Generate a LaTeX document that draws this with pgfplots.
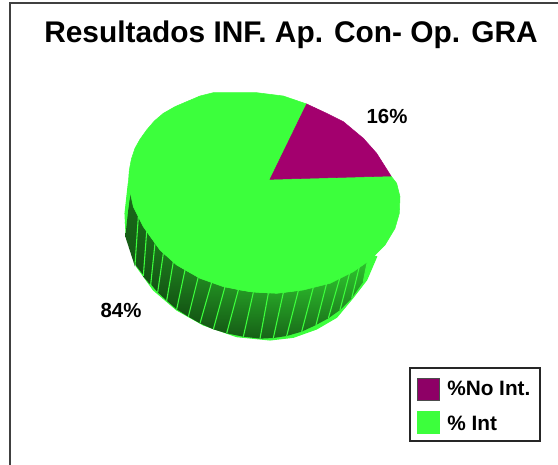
\documentclass[border=0pt]{standalone}
\usepackage{fontspec}
\setmainfont{Liberation Sans}
\usepackage{pgfplots}
\pgfplotsset{compat=1.18}

\definecolor{pieGreen}{HTML}{3CFF3C}
\definecolor{piePurple}{HTML}{A3006E}
\definecolor{legPurple}{HTML}{8E0066}

% one strip of the pie's wall: colour at the rim, colour at the foot, outline
\newcommand{\band}[3]{\addplot[draw=none, top color=pieGreen!#1!black, bottom color=pieGreen!#2!black] coordinates {#3} -- cycle;}
\newcommand{\rib}[1]{\addplot[pieGreen, line width=0.8pt] coordinates {#1};}

\begin{document}
\begin{tikzpicture}
\useasboundingbox (0,0) rectangle (418.5pt,348.75pt);
% axis units are 1/3 of a pixel, measured from (110,80) of the picture, y downwards
\begin{axis}[
    hide axis,
    scale only axis,
    width=418.5pt,
    height=348.75pt,
    xmin=-330, xmax=1344,
    ymin=-240, ymax=1155,
    y dir=reverse,
    clip=false,
]

% frame: left and top only
\addplot[black!75, line width=0.9pt] coordinates {(-300,1155)(-300,-231)(1344,-231)};

% wall of the pie
\addplot[pieGreen, fill=pieGreen, line width=0.8pt] coordinates {
    (55,310)(45,400)(48,460)(80,560)(130,630)(200,690)(280,735)(380,770)(480,780)
    (550,772)(620,747)(680,712)(730,652)(770,600)(800,530)
} -- cycle;
\band{42}{34}{(60,340)(85,410)(75,560)(46,470)}
\band{42}{32}{(85,410)(110,455)(100,585)(75,553)}
\band{44}{32}{(110,455)(135,490)(122,615)(100,590)}
\band{46}{32}{(135,490)(160,520)(143,637)(122,612)}
\band{48}{32}{(160,520)(190,545)(170,662)(143,637)}
\band{50}{32}{(190,545)(225,570)(200,688)(170,662)}
\band{52}{32}{(225,570)(265,590)(235,710)(200,688)}
\band{54}{33}{(265,590)(305,607)(270,730)(235,710)}
\band{56}{34}{(305,607)(345,620)(310,748)(270,730)}
\band{58}{35}{(345,620)(385,630)(350,760)(310,748)}
\band{60}{36}{(385,630)(430,637)(400,770)(350,760)}
\band{62}{37}{(430,637)(475,640)(450,776)(400,770)}
\band{64}{39}{(475,640)(520,638)(490,774)(450,776)}
\band{66}{41}{(520,638)(565,632)(530,768)(490,774)}
\band{68}{43}{(565,632)(610,622)(575,755)(530,768)}
\band{70}{45}{(610,622)(650,610)(618,735)(575,755)}
\band{72}{47}{(650,610)(690,592)(655,715)(618,735)}
\band{74}{50}{(690,592)(720,575)(690,690)(655,715)}
\band{76}{54}{(720,575)(750,552)(725,655)(690,690)}
\band{78}{58}{(750,552)(775,530)(760,605)(725,655)}
\rib{(60,340)(46,430)}
\rib{(85,410)(75,555)}
\rib{(110,455)(100,588)}
\rib{(135,490)(122,615)}
\rib{(160,520)(143,637)}
\rib{(190,545)(170,662)}
\rib{(225,570)(200,688)}
\rib{(265,590)(235,710)}
\rib{(305,607)(270,730)}
\rib{(345,620)(310,748)}
\rib{(385,630)(350,760)}
\rib{(430,637)(400,770)}
\rib{(475,640)(450,776)}
\rib{(520,638)(490,774)}
\rib{(565,632)(530,768)}
\rib{(610,622)(575,755)}
\rib{(650,610)(618,735)}
\rib{(690,592)(655,715)}
\rib{(720,575)(690,690)}
\rib{(750,552)(725,655)}
\rib{(775,530)(760,605)}

% top face, 84 % slice
\addplot[pieGreen, fill=pieGreen] coordinates {
    (590,72)(520,48)(440,38)(310,38)(270,48)(230,65)(195,80)(160,100)(133,123)(110,150)
    (90,178)(75,205)(64,238)(58,270)(55,310)
    (70,380)(100,440)(150,510)(200,555)(270,595)(340,620)(420,635)(500,640)(580,630)
    (660,610)(730,575)(780,540)(825,495)(855,445)(868,400)(870,350)(860,310)(843,288)(480,298)
} -- cycle;

% top face, 16 % slice
\addplot[piePurple, fill=piePurple] coordinates {
    (480,298)(590,72)(650,100)(700,125)(760,175)(800,220)(843,288)
} -- cycle;

\node[font=\fontsize{22.4pt}{26pt}\selectfont\bfseries, text=black] at (axis cs:543,-135) {Resultados INF. Ap. Con- Op. GRA};
\node[font=\fontsize{15.3pt}{18pt}\selectfont\bfseries] at (axis cs:831,108) {16\%};
\node[font=\fontsize{15.3pt}{18pt}\selectfont\bfseries] at (axis cs:33,690) {84\%};

% legend
\addplot[black!85, fill=white, line width=0.8pt] coordinates {(900,864)(1290,864)(1290,1083)(900,1083)} -- cycle;
\addplot[black!70, fill=legPurple, line width=0.6pt] coordinates {(921,894)(987,894)(987,960)(921,960)} -- cycle;
\addplot[pieGreen, fill=pieGreen] coordinates {(921,993)(987,993)(987,1059)(921,1059)} -- cycle;
\node[font=\fontsize{15.6pt}{18pt}\selectfont\bfseries, anchor=west, inner sep=0pt] at (axis cs:1011,924) {\%No Int.};
\node[font=\fontsize{15.6pt}{18pt}\selectfont\bfseries, anchor=west, inner sep=0pt] at (axis cs:1011,1029) {\% Int};

\end{axis}
\end{tikzpicture}
\end{document}
